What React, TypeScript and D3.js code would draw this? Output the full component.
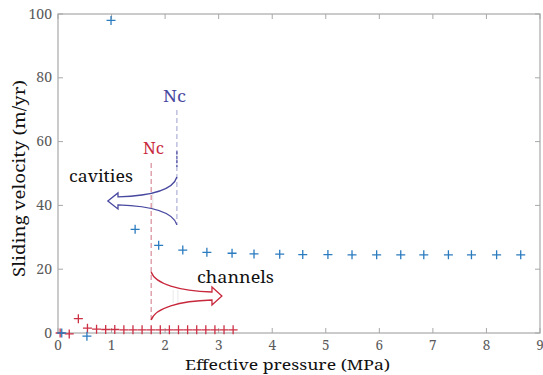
import React from "react";
import * as d3 from "d3";

const blueX = [0.07, 0.54, 0.99, 1.44, 1.88, 2.33, 2.78, 3.25, 3.66, 4.14, 4.57, 5.04, 5.49, 5.95, 6.4, 6.83, 7.29, 7.72, 8.19, 8.64];
const blueY = [0, -1, 98, 32.5, 27.5, 26, 25.3, 25, 24.8, 24.7, 24.6, 24.6, 24.5, 24.5, 24.5, 24.5, 24.5, 24.5, 24.5, 24.5];
const redX = [0.04, 0.21, 0.38, 0.55, 0.72, 0.89, 1.06, 1.23, 1.4, 1.57, 1.74, 1.91, 2.08, 2.25, 2.42, 2.59, 2.76, 2.93, 3.1, 3.27];
const redY = [0, -0.3, 4.5, 1.5, 1.2, 1.1, 1.1, 1, 1, 1, 1, 1, 1, 1, 1, 1, 1, 1, 1, 1];
const xTicks = [0, 1, 2, 3, 4, 5, 6, 7, 8, 9];
const yTicks = [0, 20, 40, 60, 80, 100];

// annotation anchors (data units)
const ncBlue = { x: 2.22, y0: 33.9, y1: 69.9 };
const ncRed = { x: 1.74, y0: 4.1, y1: 53.3 };
const cavities = { right: 2.22, back: 1.12, tip: 0.93, top: 48.9, mid: 41.4, bottom: 33.9 };
const channels = { left: 1.74, back: 2.875, tip: 3.06, top: 19.1, mid: 11.6, bottom: 4.1 };

const W = 543, H = 375;
const L = 58, R = 540, T = 14, B = 333;
const BLUE = "#2b7bbf";
const RED = "#cc3045";
const ANN_BLUE = "#4848a0";
const ANN_RED = "#c8283c";
const AXIS = "#a8a8a8";
const LABEL = "#5a5a5a";
const FONT = '"Noto Serif", serif';

export default function App() {
  const x = d3.scaleLinear().domain([0, 9]).range([L, R]);
  const y = d3.scaleLinear().domain([0, 100]).range([B, T]);

  const plus = (px: number, py: number, color: string, k: string) => (
    <path key={k} d={`M${px - 4.5},${py}H${px + 4.5}M${px},${py - 4.5}V${py + 4.5}`} stroke={color} strokeWidth={1.3} fill="none" />
  );

  // cavities arrow (pointing left)
  const cR = x(cavities.right), cB = x(cavities.back), cT = x(cavities.tip);
  const cTop = y(cavities.top), cMid = y(cavities.mid), cBot = y(cavities.bottom);
  const cav = d3.path();
  cav.moveTo(cR, cTop);
  cav.bezierCurveTo(cR - 4, cTop + 14, cR - 28, cMid - 5, cB, cMid - 4);
  cav.lineTo(cB, cMid - 8);
  cav.lineTo(cT, cMid);
  cav.lineTo(cB, cMid + 8);
  cav.lineTo(cB, cMid + 4);
  cav.bezierCurveTo(cR - 28, cMid + 5, cR - 4, cBot - 14, cR, cBot);

  // channels arrow (pointing right)
  const hL = x(channels.left), hB = x(channels.back), hT = x(channels.tip);
  const hTop = y(channels.top), hMid = y(channels.mid), hBot = y(channels.bottom);
  const ch = d3.path();
  ch.moveTo(hL, hTop);
  ch.bezierCurveTo(hL + 4, hTop + 12, hL + 28, hMid - 5, hB, hMid - 4);
  ch.lineTo(hB, hMid - 9);
  ch.lineTo(hT, hMid);
  ch.lineTo(hB, hMid + 9);
  ch.lineTo(hB, hMid + 4);
  ch.bezierCurveTo(hL + 28, hMid + 5, hL + 4, hBot - 12, hL, hBot);

  return (
    <svg width={W} height={H} style={{ position: "absolute", left: 0, top: 0, fontFamily: FONT }}>
      <rect width={W} height={H} fill="#fff" />
      {/* frame */}
      <rect x={L} y={T} width={R - L} height={B - T} fill="none" stroke={AXIS} strokeWidth={1.2} />
      {xTicks.map((t) => (
        <g key={"xt" + t}>
          <line x1={x(t)} x2={x(t)} y1={B} y2={B - 5} stroke={AXIS} />
          <line x1={x(t)} x2={x(t)} y1={T} y2={T + 5} stroke={AXIS} />
          <text x={x(t)} y={B + 17} textAnchor="middle" fontSize={13.5} fill={LABEL}>{t}</text>
        </g>
      ))}
      {yTicks.map((t) => (
        <g key={"yt" + t}>
          <line x1={L} x2={L + 5} y1={y(t)} y2={y(t)} stroke={AXIS} />
          <line x1={R} x2={R - 5} y1={y(t)} y2={y(t)} stroke={AXIS} />
          <text x={L - 6} y={y(t) + 4.5} textAnchor="end" fontSize={14} fill={LABEL}>{t}</text>
        </g>
      ))}
      <text x={185} y={370} fontSize={15} fill="#111" textLength={205} lengthAdjust="spacingAndGlyphs">Effective pressure (MPa)</text>
      <text transform={`translate(25,277) rotate(-90)`} fontSize={16.5} fill="#111" textLength={197} lengthAdjust="spacingAndGlyphs">Sliding velocity (m/yr)</text>

      {/* faint guide lines */}
      <line x1={x(1.77)} x2={x(1.77)} y1={cMid - 8} y2={cMid + 8} stroke="#dcdcdc" strokeWidth={0.8} />
      <line x1={x(2.15)} x2={x(2.15)} y1={hMid - 6} y2={hMid + 7} stroke="#e2e2e2" strokeWidth={0.8} />
      <line x1={x(2.24)} x2={x(2.24)} y1={hMid - 6} y2={hMid + 7} stroke="#e2e2e2" strokeWidth={0.8} />

      {/* dashed Nc lines */}
      <line x1={x(ncRed.x)} x2={x(ncRed.x)} y1={y(ncRed.y1)} y2={y(ncRed.y0)} stroke="#d07080" strokeWidth={1.2} strokeDasharray="5,3" opacity={0.8} />
      <line x1={x(ncBlue.x)} x2={x(ncBlue.x)} y1={y(ncBlue.y1)} y2={y(ncBlue.y0)} stroke="#8888c8" strokeWidth={1} strokeDasharray="5,3" opacity={0.8} />
      <line x1={x(ncBlue.x)} x2={x(ncBlue.x)} y1={y(57)} y2={y(52)} stroke={ANN_BLUE} strokeWidth={1.2} strokeDasharray="3,1.5" />

      <text x={163} y={102} fontSize={16.5} fill={ANN_BLUE} textLength={23} lengthAdjust="spacingAndGlyphs">Nc</text>
      <text x={143} y={154} fontSize={16.5} fill={ANN_RED} textLength={21} lengthAdjust="spacingAndGlyphs">Nc</text>

      <path d={cav.toString()} fill="none" stroke={ANN_BLUE} strokeWidth={1.3} strokeLinejoin="miter" />
      <path d={ch.toString()} fill="none" stroke={ANN_RED} strokeWidth={1.3} strokeLinejoin="miter" />

      <text x={69} y={182} fontSize={16.5} fill="#111" textLength={64} lengthAdjust="spacingAndGlyphs">cavities</text>
      <text x={197} y={283} fontSize={16.5} fill="#111" textLength={77} lengthAdjust="spacingAndGlyphs">channels</text>

      {/* data */}
      {redX.map((v, i) => plus(x(v), y(redY[i]), RED, "r" + i))}
      {blueX.map((v, i) => plus(x(v), y(blueY[i]), BLUE, "b" + i))}
    </svg>
  );
}
